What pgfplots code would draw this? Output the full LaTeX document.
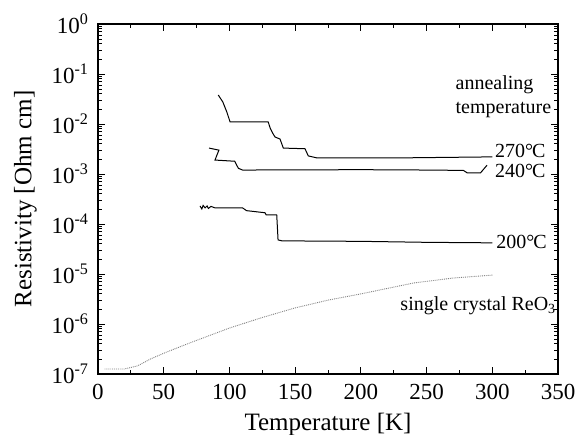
\documentclass[border=0pt]{standalone}
\usepackage{fontspec}
\setmainfont{Liberation Serif}
\usepackage{pgfplots}
\pgfplotsset{compat=1.18}

\newcommand{\lab}{\fontsize{20}{22}\selectfont}

\begin{document}
\begin{tikzpicture}
\begin{semilogyaxis}[
  scale only axis,
  width=460pt, height=350pt,
  xmin=0, xmax=350, ymin=1e-7, ymax=1,
  xtick={0,50,...,350}, minor x tick num=1,
  ytick={1e-7,1e-6,1e-5,1e-4,1e-3,1e-2,1e-1,1},
  yticklabels={10\textsuperscript{-7},10\textsuperscript{-6},10\textsuperscript{-5},10\textsuperscript{-4},
               10\textsuperscript{-3},10\textsuperscript{-2},10\textsuperscript{-1},10\textsuperscript{0}},
  tick label style={font=\fontsize{23}{25}\selectfont},
  xticklabel style={yshift=-7pt},
  yticklabel style={xshift=-6pt},
  /pgf/number format/assume math mode=true,
  label style={font=\fontsize{25}{27}\selectfont},
  xlabel={Temperature [K]},
  ylabel={Resistivity [Ohm cm]},
  xlabel style={yshift=-6pt},
  ylabel style={yshift=8pt},
  major tick length=7pt, minor tick length=4pt,
  axis line style={line width=1.3pt},
  every tick/.style={black, line width=0.8pt},
]
% 270 C
\addplot[black, line width=1pt] coordinates {
  (91.5,0.038) (95,0.0275) (98,0.0174) (100.5,0.011) (129.5,0.011)
  (131,0.0083) (133,0.0065) (134.7,0.0055) (138.5,0.005) (141,0.0033)
  (157.5,0.0032) (160,0.0023) (166.5,0.0021) (230,0.0021) (300,0.0022)
};
% 240 C
\addplot[black, line width=1pt] coordinates {
  (84.5,0.0033) (92,0.003) (89,0.0019) (104,0.0018) (106.8,0.0013)
  (110,0.0012) (200,0.00122) (250,0.0012) (278,0.00118) (281,0.00105)
  (291,0.00105) (296,0.0015)
};
% 200 C
\addplot[black, line width=1pt] coordinates {
  (77.6,2.3e-4) (79,2.0e-4) (80,2.35e-4) (81.5,2.1e-4) (83,2.3e-4)
  (84,2.05e-4) (86,2.25e-4) (89,2.1e-4) (110,2.1e-4) (113,1.85e-4)
  (127,1.68e-4) (128,1.52e-4) (136,1.52e-4) (137,4.8e-5) (140,4.6e-5)
  (200,4.5e-5) (250,4.3e-5) (300,4.2e-5)
};
% single crystal ReO3
\addplot[gray, densely dotted, line width=0.9pt] coordinates {
  (5,1.26e-7) (20,1.26e-7) (30,1.45e-7) (40,2.0e-7) (50,2.6e-7)
  (70,4.2e-7) (100,8.3e-7) (125,1.35e-6) (150,2.1e-6) (175,3.0e-6)
  (200,4.0e-6) (240,6.6e-6) (270,8.3e-6) (300,9.5e-6)
};
\node[anchor=base west, inner sep=0pt, font=\lab] at (axis cs:272,0.05) {annealing};
\node[anchor=base west, inner sep=0pt, font=\lab] at (axis cs:272,0.016) {temperature};
\node[anchor=base west, inner sep=0pt, font=\lab] at (axis cs:302,0.0021) {270°\kern-1ptC};
\node[anchor=base west, inner sep=0pt, font=\lab] at (axis cs:302,8.7e-4) {240°\kern-1ptC};
\node[anchor=base west, inner sep=0pt, font=\lab] at (axis cs:303,3.3e-5) {200°\kern-1ptC};
\node[anchor=base west, inner sep=0pt, font=\lab] at (axis cs:230,1.9e-6) {single crystal ReO\textsubscript{3}};
\coordinate (bl) at (rel axis cs:0,0);
\coordinate (tr) at (rel axis cs:1,1);
\end{semilogyaxis}
\pgfresetboundingbox
\path ([shift={(-98pt,-61pt)}]bl) rectangle ([shift={(28pt,24pt)}]tr);
\end{tikzpicture}
\end{document}
